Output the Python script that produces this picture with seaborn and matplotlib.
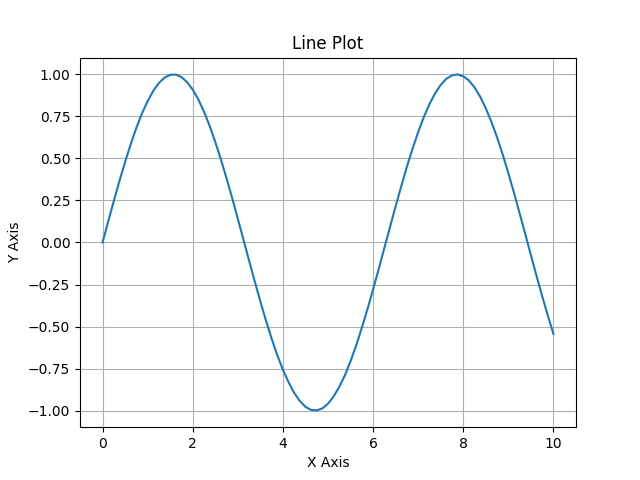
import pandas as pd
import matplotlib
matplotlib.use("Agg")
import matplotlib.pyplot as plt
import seaborn as sns

# values, every 0.125 on the x axis
x_vals = [0.0, 0.125, 0.25, 0.375, 0.5, 0.625, 0.75, 0.875,
          1.0, 1.125, 1.25, 1.375, 1.5, 1.625, 1.75, 1.875,
          2.0, 2.125, 2.25, 2.375, 2.5, 2.625, 2.75, 2.875,
          3.0, 3.125, 3.25, 3.375, 3.5, 3.625, 3.75, 3.875,
          4.0, 4.125, 4.25, 4.375, 4.5, 4.625, 4.75, 4.875,
          5.0, 5.125, 5.25, 5.375, 5.5, 5.625, 5.75, 5.875,
          6.0, 6.125, 6.25, 6.375, 6.5, 6.625, 6.75, 6.875,
          7.0, 7.125, 7.25, 7.375, 7.5, 7.625, 7.75, 7.875,
          8.0, 8.125, 8.25, 8.375, 8.5, 8.625, 8.75, 8.875,
          9.0, 9.125, 9.25, 9.375, 9.5, 9.625, 9.75, 9.875, 10.0]
y_vals = [0.000, 0.125, 0.247, 0.366, 0.479, 0.585, 0.682, 0.768,
          0.841, 0.902, 0.949, 0.981, 0.997, 0.999, 0.984, 0.954,
          0.909, 0.851, 0.778, 0.694, 0.598, 0.494, 0.382, 0.264,
          0.141, 0.017, -0.108, -0.231, -0.351, -0.465, -0.572, -0.670,
          -0.757, -0.831, -0.895, -0.943, -0.978, -0.996, -0.999, -0.987,
          -0.959, -0.916, -0.859, -0.790, -0.706, -0.612, -0.508, -0.397,
          -0.279, -0.158, -0.033, 0.092, 0.215, 0.335, 0.451, 0.558,
          0.657, 0.746, 0.823, 0.887, 0.938, 0.974, 0.994, 1.000,
          0.989, 0.964, 0.923, 0.867, 0.798, 0.717, 0.625, 0.523,
          0.412, 0.296, 0.173, 0.050, -0.075, -0.199, -0.319, -0.435, -0.544]

df = pd.DataFrame({"x": x_vals, "y": y_vals})

fig, ax = plt.subplots(figsize=(6.4, 4.8), dpi=100)
sns.lineplot(data=df, x="x", y="y", ax=ax, color="#1f77b4")

ax.set_title("Line Plot")
ax.set_xlabel("X Axis")
ax.set_ylabel("Y Axis")
ax.grid(True)

plt.savefig("out.png", dpi=100)
